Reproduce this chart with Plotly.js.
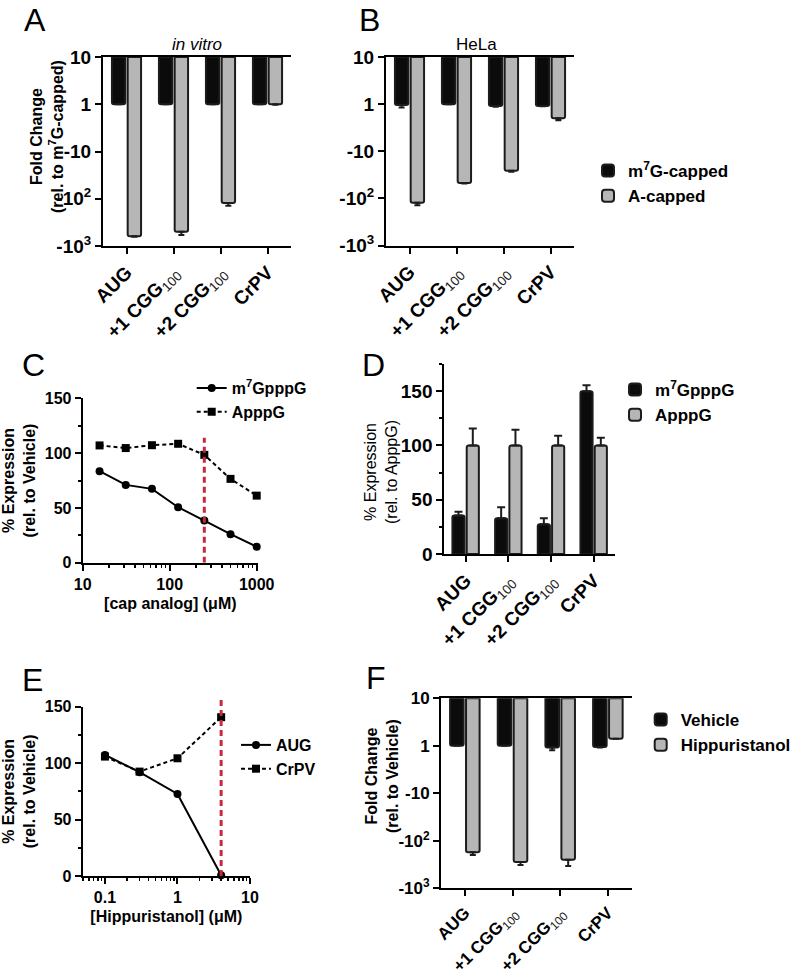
<!DOCTYPE html>
<html>
<head>
<meta charset="utf-8">
<script src="https://cdn.plot.ly/plotly-3.0.1.min.js"></script>
<style>html,body{margin:0;padding:0;background:#fff;}#chart{width:800px;height:976px;}</style>
</head>
<body>
<div id="chart"></div>
<script>
// ---------- data ----------
const categories = ['AUG', '+1 CGG', '+2 CGG', 'CrPV'];
const categoryLabels = ['<b>AUG</b>', '<b>+1 CGG</b><span style="font-weight:normal;fill:#222"><sub>100</sub></span>', '<b>+2 CGG</b><span style="font-weight:normal;fill:#222"><sub>100</sub></span>', '<b>CrPV</b>'];

// fold change (negative = fold decrease); error bars in log10 units
const foldA_m7G = [1, 1, 1, 1];
const foldA_Acap = [-620, -500, -123, 1];
const errA_m7G = [0, 0, 0, 0];
const errA_Acap = [0.01, 0.07, 0.06, 0.01];

const foldB_m7G = [-1.05, 1, -1.09, -1.09];
const foldB_Acap = [-124, -47, -26, -2.0];
const errB_m7G = [0.05, 0, 0.02, 0.01];
const errB_Acap = [0.05, 0.01, 0.02, 0.04];

const foldF_vehicle = [1, 1, -1.08, -1.06];
const foldF_hipp = [-174, -280, -251, 1.4];
const errF_vehicle = [0, 0, 0.06, 0.01];
const errF_hipp = [0.06, 0.06, 0.13, 0];

const foldTickVals = [10, 1, -10, -100, -1000];
const foldTickText = ['10', '1', '-10', '-10<sup>2</sup>', '-10<sup>3</sup>'];

// panel C
const capDose = [15.625, 31.25, 62.5, 125, 250, 500, 1000];
const capM7G = [83.5, 71, 67.4, 50.6, 38.4, 26, 14.6];
const capApppG = [107, 104.6, 107.2, 108.5, 98.4, 76.5, 61.2];
const capRefDose = 250;

// panel D
const dM7G = [35.5, 33, 27.5, 150];
const dM7GErr = [3.5, 10, 5.5, 5.5];
const dApppG = [100, 100, 100, 100];
const dApppGErr = [15.5, 14.5, 9, 7];

// panel E
const hippDose = [0.1, 0.3, 1, 4];
const hippAUG = [107.3, 92, 72.7, 0.6];
const hippCrPV = [105.8, 92.5, 104.3, 140.7];
const hippRefDose = 4;

// ---------- helpers ----------
const W = 800, H = 976;
const FONT = 'Liberation Sans, Arial, Helvetica, sans-serif';
const BLACK = '#0b0b0b', GRAY = '#b6b6b6', EDGE = '#1c1c1c', RED = '#c8283c';
function fx(px) { return px / W; }
function fy(px) { return 1 - px / H; }
// map fold change to position: 1 -> 0, 10 -> 1, -10 -> -1 ...; shift so the top (10) is 0
function foldPos(v) { return (v > 0 ? Math.log10(v) : -Math.log10(-v)) - 1; }
function boldFont(size) { return {family: FONT, size: size, color: '#000', weight: 'bold'}; }

function foldBar(vals, errs, color, name, xa, ya, legend, show) {
  return {
    type: 'bar', x: categories, y: vals.map(foldPos), name: name,
    xaxis: xa, yaxis: ya, legend: legend, showlegend: show,
    marker: {color: color, line: {color: EDGE, width: 2}, cornerradius: 2},
    error_y: {type: 'data', symmetric: false, array: vals.map(() => 0), arrayminus: errs, color: EDGE, thickness: 2, width: 3},
    hoverinfo: 'skip'
  };
}

const traces = [];
traces.push(foldBar(foldA_m7G, errA_m7G, BLACK, 'm<sup>7</sup>G-capped', 'x', 'y', 'legend', true));
traces.push(foldBar(foldA_Acap, errA_Acap, GRAY, 'A-capped', 'x', 'y', 'legend', true));
traces.push(foldBar(foldB_m7G, errB_m7G, BLACK, 'm<sup>7</sup>G-capped', 'x2', 'y2', 'legend', false));
traces.push(foldBar(foldB_Acap, errB_Acap, GRAY, 'A-capped', 'x2', 'y2', 'legend', false));
traces.push(foldBar(foldF_vehicle, errF_vehicle, BLACK, 'Vehicle', 'x6', 'y6', 'legend5', true));
traces.push(foldBar(foldF_hipp, errF_hipp, GRAY, 'Hippuristanol', 'x6', 'y6', 'legend5', true));

// panel C lines
traces.push({type: 'scatter', mode: 'lines+markers', x: capDose, y: capM7G, name: 'm<sup>7</sup>GpppG', xaxis: 'x3', yaxis: 'y3', legend: 'legend2',
  line: {color: '#000', width: 2}, marker: {symbol: 'circle', size: 8, color: '#000'}, cliponaxis: false, hoverinfo: 'skip'});
traces.push({type: 'scatter', mode: 'lines+markers', x: capDose, y: capApppG, name: 'ApppG', xaxis: 'x3', yaxis: 'y3', legend: 'legend2',
  line: {color: '#000', width: 2, dash: '4px,3px'}, marker: {symbol: 'square', size: 8, color: '#000'}, cliponaxis: false, hoverinfo: 'skip'});

// panel D bars
traces.push({type: 'bar', x: categories, y: dM7G, name: 'm<sup>7</sup>GpppG', xaxis: 'x4', yaxis: 'y4', legend: 'legend3',
  marker: {color: BLACK, line: {color: EDGE, width: 2}, cornerradius: 2},
  error_y: {type: 'data', symmetric: false, array: dM7GErr, arrayminus: dM7G.map(() => 0), color: EDGE, thickness: 2, width: 4}, hoverinfo: 'skip'});
traces.push({type: 'bar', x: categories, y: dApppG, name: 'ApppG', xaxis: 'x4', yaxis: 'y4', legend: 'legend3',
  marker: {color: GRAY, line: {color: EDGE, width: 2}, cornerradius: 2},
  error_y: {type: 'data', symmetric: false, array: dApppGErr, arrayminus: dApppG.map(() => 0), color: EDGE, thickness: 2, width: 4}, hoverinfo: 'skip'});

// panel E lines
traces.push({type: 'scatter', mode: 'lines+markers', x: hippDose, y: hippAUG, name: 'AUG', xaxis: 'x5', yaxis: 'y5', legend: 'legend4',
  line: {color: '#000', width: 2}, marker: {symbol: 'circle', size: 8, color: '#000'}, cliponaxis: false, hoverinfo: 'skip'});
traces.push({type: 'scatter', mode: 'lines+markers', x: hippDose, y: hippCrPV, name: 'CrPV', xaxis: 'x5', yaxis: 'y5', legend: 'legend4',
  line: {color: '#000', width: 2, dash: '4px,3px'}, marker: {symbol: 'square', size: 8, color: '#000'}, cliponaxis: false, hoverinfo: 'skip'});

// ---------- axes ----------
function catAxis(x0, x1, anchor, mirror, fs) {
  return {domain: [fx(x0), fx(x1)], anchor: anchor, type: 'category', range: [-0.5, 3.5],
    tickvals: categories, ticktext: categoryLabels, tickangle: -45, tickfont: boldFont(fs),
    showline: true, linecolor: '#000', linewidth: 2, mirror: mirror, ticks: 'outside', ticklen: 6, tickwidth: 2, tickcolor: '#000',
    showgrid: false, zeroline: false, fixedrange: true};
}
function foldAxis(y0, y1, anchor, fs) {
  return {domain: [fy(y1), fy(y0)], anchor: anchor, range: [-4, 0],
    tickmode: 'array', tickvals: foldTickVals.map(foldPos), ticktext: foldTickText, tickfont: boldFont(fs),
    showline: true, linecolor: '#000', linewidth: 2, ticks: 'outside', ticklen: 6, tickwidth: 2, tickcolor: '#000',
    showgrid: false, zeroline: false, fixedrange: true};
}
function linAxis(y0, y1, anchor, max, fs) {
  return {domain: [fy(y1), fy(y0)], anchor: anchor, range: [0, max],
    tickmode: 'array', tickvals: [0, 50, 100, 150], tickfont: boldFont(fs),
    minor: {tickmode: 'array', tickvals: [25, 75, 125, 175].filter(v => v <= max), ticks: 'outside', ticklen: 3, tickwidth: 2, tickcolor: '#000'},
    showline: true, linecolor: '#000', linewidth: 2, ticks: 'outside', ticklen: 6, tickwidth: 2, tickcolor: '#000',
    showgrid: false, zeroline: false, fixedrange: true};
}
function logAxis(x0, x1, anchor, range, title) {
  return {domain: [fx(x0), fx(x1)], anchor: anchor, type: 'log', range: range,
    tickmode: 'linear', tick0: 0, dtick: 1, exponentformat: 'none', tickfont: boldFont(16),
    minor: {dtick: 'D1', ticks: 'outside', ticklen: 3, tickwidth: 1.5, tickcolor: '#000'},
    title: {text: title, font: boldFont(16), standoff: 6},
    showline: true, linecolor: '#000', linewidth: 2, ticks: 'outside', ticklen: 6, tickwidth: 2, tickcolor: '#000',
    showgrid: false, zeroline: false, fixedrange: true};
}

const yTitleFont = boldFont(16);
function note(text, px, py, font, extra) {
  return Object.assign({text: text, x: fx(px), y: fy(py), xref: 'paper', yref: 'paper', xanchor: 'center', yanchor: 'middle', showarrow: false, font: font}, extra || {});
}
const letterFont = {family: FONT, size: 32, color: '#000'};

const layout = {
  width: W, height: H, margin: {l: 0, r: 0, t: 0, b: 0}, paper_bgcolor: '#fff', plot_bgcolor: 'rgba(0,0,0,0)',
  font: {family: FONT, color: '#000'},
  barmode: 'group', bargap: 0.33, bargroupgap: 0.15,
  xaxis: catAxis(103, 291, 'y', true, 19),
  yaxis: foldAxis(57, 246, 'x', 19),
  xaxis2: catAxis(386, 574, 'y2', true, 19),
  yaxis2: foldAxis(57, 245.5, 'x2', 19),
  xaxis3: logAxis(82.7, 258, 'y3', [1, 3.015], '[cap analog] (\u03bcM)'),
  yaxis3: Object.assign(linAxis(398.3, 562.7, 'x3', 150, 16), {title: {text: '% Expression<br>(rel. to Vehicle)', font: yTitleFont, standoff: 6}}),
  xaxis4: catAxis(444.3, 615, 'y4', false, 19),
  yaxis4: linAxis(364, 554, 'x4', 175, 19),
  xaxis5: logAxis(82.7, 250, 'y5', [-1.307, 1], '[Hippuristanol] (\u03bcM)'),
  yaxis5: Object.assign(linAxis(706.7, 876, 'x5', 150, 16), {title: {text: '% Expression<br>(rel. to Vehicle)', font: yTitleFont, standoff: 6}}),
  xaxis6: catAxis(441, 631.7, 'y6', true, 17),
  yaxis6: foldAxis(698.3, 888.3, 'x6', 17),
  legend: {x: fx(588), y: fy(153), xanchor: 'left', yanchor: 'top', font: boldFont(17), bgcolor: 'rgba(0,0,0,0)', tracegroupgap: 0},
  legend2: {x: fx(191.7), y: fy(371), xanchor: 'left', yanchor: 'top', font: boldFont(16), bgcolor: 'rgba(0,0,0,0)'},
  legend3: {x: fx(615), y: fy(372), xanchor: 'left', yanchor: 'top', font: boldFont(17), bgcolor: 'rgba(0,0,0,0)'},
  legend4: {x: fx(236), y: fy(728), xanchor: 'left', yanchor: 'top', font: boldFont(16), bgcolor: 'rgba(0,0,0,0)'},
  legend5: {x: fx(640.7), y: fy(702), xanchor: 'left', yanchor: 'top', font: boldFont(17), bgcolor: 'rgba(0,0,0,0)'},
  shapes: [
    {type: 'line', xref: 'x3', yref: 'y3', x0: capRefDose, x1: capRefDose, y0: 0, y1: 114, line: {color: RED, width: 3, dash: '6px,4px'}},
    {type: 'line', xref: 'x5', yref: 'y5 domain', x0: hippRefDose, x1: hippRefDose, y0: 0, y1: 1.06, line: {color: RED, width: 3, dash: '6px,4px'}}
  ],
  annotations: [
    note('A', 35, 20, letterFont),
    note('B', 369, 20, letterFont),
    note('C', 33, 365, letterFont),
    note('D', 373, 365, letterFont),
    note('E', 32, 680, letterFont),
    note('F', 376, 678, letterFont),
    note('<i>in vitro</i>', 197, 45, {family: FONT, size: 17, color: '#000'}),
    note('HeLa', 477, 45, {family: FONT, size: 17, color: '#000'}),
    note('Fold Change<br>(rel. to m<sup>7</sup>G-capped)', 47, 137, yTitleFont, {textangle: -90}),
    note('% Expression<br>(rel. to ApppG)', 381, 472, {family: FONT, size: 16, color: '#000'}, {textangle: -90}),
    note('Fold Change<br>(rel. to Vehicle)', 382, 776, yTitleFont, {textangle: -90})
  ]
};

Plotly.newPlot('chart', traces, layout, {staticPlot: true, displayModeBar: false});
</script>
</body>
</html>
